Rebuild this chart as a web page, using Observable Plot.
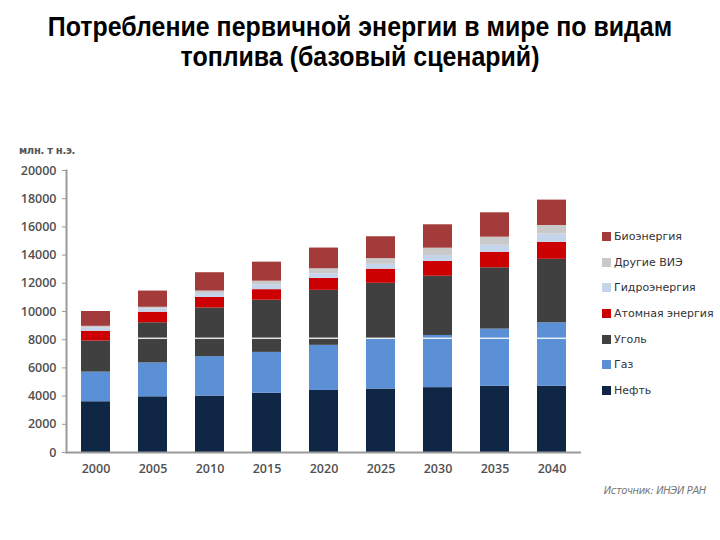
<!DOCTYPE html>
<html>
<head>
<meta charset="utf-8">
<script src="https://cdn.jsdelivr.net/npm/d3@7"></script>
<script src="https://cdn.jsdelivr.net/npm/@observablehq/plot@0.6"></script>
<style>
  html, body { margin: 0; padding: 0; background: #fff; }
  #wrap { position: relative; width: 720px; height: 540px; overflow: hidden; font-family: "Liberation Sans", Arial, sans-serif; }
  #title { position: absolute; left: 0; top: 12px; width: 720px; text-align: center; font-weight: bold; font-size: 28px; line-height: 30px; color: #000; transform: scaleX(0.89); transform-origin: 360px 0; }
  #chart { position: absolute; left: 0; top: 80px; }
  #unit { position: absolute; left: 19px; top: 145px; font-size: 10px; font-weight: bold; color: #555; font-family: "DejaVu Sans", sans-serif; letter-spacing: -0.3px; }
  #legend { position: absolute; left: 602px; top: 230px; font-size: 11px; color: #333; font-family: "DejaVu Sans", sans-serif; }
  .li { height: 25.7px; display: flex; align-items: flex-start; }
  .sw { width: 9px; height: 9px; margin-right: 3px; margin-top: 2px; }
  #source { position: absolute; right: 14px; top: 485px; font-size: 10px; font-style: italic; color: #777; font-family: "DejaVu Sans", sans-serif; letter-spacing: -0.4px; }
</style>
</head>
<body>
<div id="wrap">
  <div id="title">Потребление первичной энергии в мире по видам<br>топлива (базовый сценарий)</div>
  <div id="unit">млн. т н.э.</div>
  <div id="chart"></div>
  <div id="legend"></div>
  <div id="source">Источник: ИНЭИ РАН</div>
</div>
<script>
// Categories (years)
const years = ["2000", "2005", "2010", "2015", "2020", "2025", "2030", "2035", "2040"];
// Series names (bottom to top of the stack)
const series = ["Нефть", "Газ", "Уголь", "Атомная энергия", "Гидроэнергия", "Другие ВИЭ", "Биоэнергия"];
const colors = ["#0f2744", "#5b8fd6", "#404040", "#cc0000", "#c4d5eb", "#c9c9c9", "#a33b3b"];
// Values, mln toe
const oil     = [3600, 3950, 4000, 4200, 4400, 4500, 4600, 4700, 4700];
const gas     = [2100, 2400, 2800, 2900, 3200, 3550, 3700, 4050, 4500];
const coal    = [2200, 2850, 3450, 3700, 3900, 3950, 4200, 4350, 4500];
const nuclear = [ 700,  750,  750,  750,  850, 1000, 1050, 1100, 1200];
const hydro   = [ 220,  230,  280,  350,  330,  350,  420,  500,  600];
const otherRE = [ 130,  120,  170,  250,  350,  400,  520,  570,  600];
const bio     = [1050, 1150, 1300, 1350, 1470, 1550, 1660, 1730, 1800];
const yTicks = [0, 2000, 4000, 6000, 8000, 10000, 12000, 14000, 16000, 18000, 20000];
// faint white line seen across bars 2005–2040
const whiteLineYears = ["2005", "2010", "2015", "2020", "2025", "2030", "2035", "2040"];
const whiteLineValue = 8100;

const valuesBySeries = [oil, gas, coal, nuclear, hydro, otherRE, bio];
const data = [];
years.forEach((y, i) => {
  series.forEach((s, j) => data.push({year: y, source: s, value: valuesBySeries[j][i]}));
});
const lineData = whiteLineYears.map(y => ({year: y, value: whiteLineValue}));

const chart = Plot.plot({
  width: 720,
  height: 460,
  marginLeft: 66,
  marginRight: 139,
  marginTop: 90,
  marginBottom: 88,
  style: {fontFamily: "'Open Sans', sans-serif", fontSize: "12.5px", color: "#555", background: "transparent"},
  x: {domain: years, paddingInner: 0.49, paddingOuter: 0.25, label: null},
  y: {domain: [0, 20000], label: null},
  color: {domain: series, range: colors},
  marks: [
    Plot.barY(data, {x: "year", y: "value", fill: "source", order: series}),
    Plot.tickY(lineData, {x: "year", y: "value", stroke: "#ffffff", strokeWidth: 1.5, strokeOpacity: 0.85}),
    Plot.ruleY([0], {stroke: "#9a9a9a", strokeWidth: 2}),
    Plot.frame({anchor: "left", stroke: "#9a9a9a", strokeWidth: 2}),
    Plot.axisY({ticks: yTicks, tickSize: 4, tickPadding: 6, stroke: "#9a9a9a", tickFormat: d => String(d), fill: "#505050", fontWeight: 600, label: null}),
    Plot.axisX({tickSize: 0, tickPadding: 12, fill: "#505050", fontWeight: 600, label: null})
  ]
});
document.getElementById("chart").appendChild(chart);

// legend (top to bottom = reverse stacking order)
const legend = document.getElementById("legend");
series.slice().reverse().forEach(s => {
  const row = document.createElement("div");
  row.className = "li";
  const sw = document.createElement("div");
  sw.className = "sw";
  sw.style.background = colors[series.indexOf(s)];
  const t = document.createElement("span");
  t.textContent = s;
  row.appendChild(sw);
  row.appendChild(t);
  legend.appendChild(row);
});
</script>
</body>
</html>
